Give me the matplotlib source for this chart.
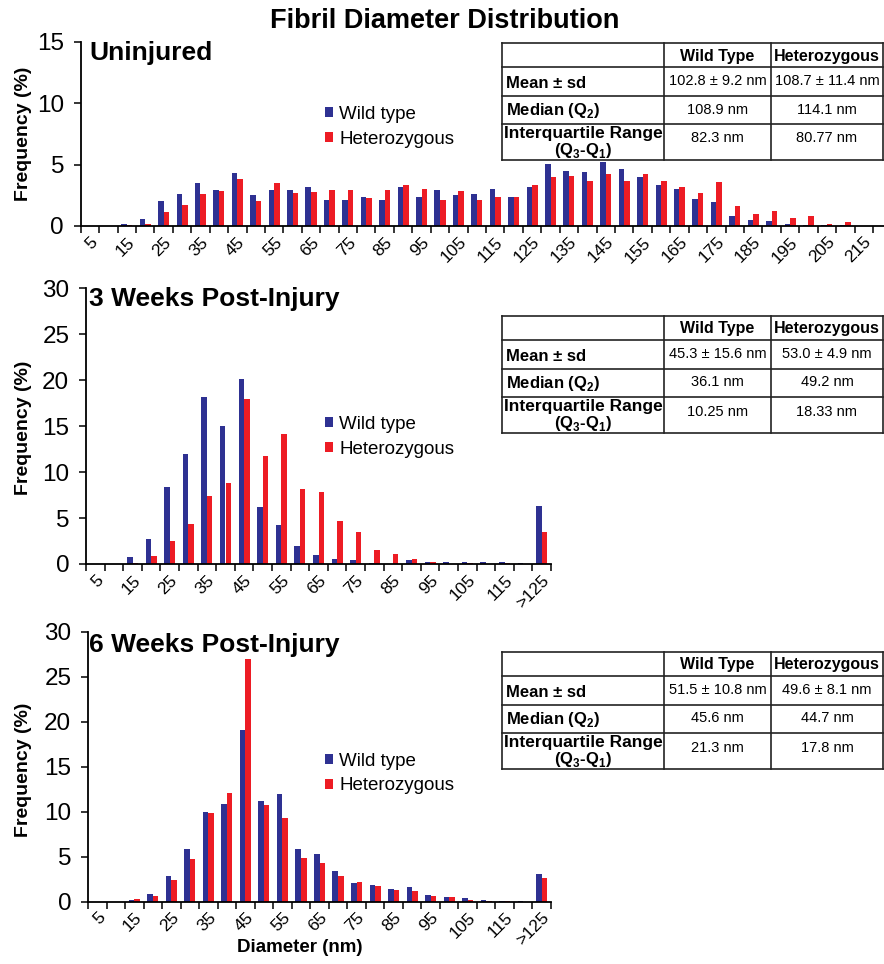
import numpy as np
import matplotlib
matplotlib.use("Agg")
import matplotlib.pyplot as plt

plt.rcParams['font.family'] = ['Liberation Sans', 'DejaVu Sans']
plt.rcParams['mathtext.fontset'] = 'custom'
plt.rcParams['mathtext.rm'] = 'Liberation Sans'
plt.rcParams['mathtext.bf'] = 'Liberation Sans:bold'

W, H = 884, 964
BLUE = '#2E3192'
RED = '#ED1C24'

# ---- data (frequency, %) ----
uninj_bins = [str(b) for b in range(5, 220, 5)]
uninj_wt = [0, 0, 0.2, 0.6, 2.05, 2.6, 3.5, 2.9, 4.3, 2.55,
            2.95, 2.95, 3.2, 2.1, 2.1, 2.4, 2.1, 3.2, 2.4, 2.95,
            2.5, 2.6, 3.0, 2.4, 3.2, 5.05, 4.45, 4.4, 5.2, 4.6,
            4.0, 3.3, 3.0, 2.2, 1.95, 0.85, 0.5, 0.4, 0.15, 0.1,
            0.05, 0.1, 0]
uninj_het = [0, 0, 0.1, 0.2, 1.1, 1.7, 2.6, 2.85, 3.8, 2.0,
             3.5, 2.65, 2.8, 2.95, 2.95, 2.3, 2.9, 3.3, 3.0, 2.1,
             2.85, 2.1, 2.4, 2.4, 3.3, 4.0, 4.1, 3.7, 4.2, 3.7,
             4.2, 3.7, 3.2, 2.65, 3.6, 1.65, 1.0, 1.2, 0.65, 0.8,
             0.15, 0.3, 0.03]

post_bins = [str(b) for b in range(5, 125, 5)] + ['>125']
wk3_wt = [0, 0, 0.73, 2.7, 8.4, 12.0, 18.2, 15.05, 20.1, 6.25,
          4.25, 1.95, 0.95, 0.5, 0.45, 0.15, 0, 0.4, 0.2, 0.25,
          0.2, 0.25, 0.2, 0.1, 6.3]
wk3_het = [0, 0, 0.15, 0.9, 2.5, 4.3, 7.4, 8.85, 18.0, 11.8,
           14.1, 8.2, 7.8, 4.65, 3.5, 1.55, 1.1, 0.55, 0.2, 0.05,
           0.1, 0.05, 0.1, 0.05, 3.45]
wk6_wt = [0, 0, 0.15, 0.9, 2.9, 5.9, 10.0, 10.9, 19.1, 11.15,
          11.95, 5.9, 5.25, 3.45, 2.07, 1.9, 1.45, 1.65, 0.8, 0.5,
          0.45, 0.2, 0.1, 0.07, 3.05]
wk6_het = [0, 0, 0.3, 0.6, 2.4, 4.8, 9.9, 12.1, 27.0, 10.8,
           9.3, 4.85, 4.3, 2.9, 2.15, 1.75, 1.35, 1.2, 0.65, 0.55,
           0.15, 0.05, 0.1, 0.02, 2.6]

# ---- summary tables ----
table_cols = ["Wild Type", "Heterozygous"]
table_rows = ["Mean \u00b1 sd", r"Median (Q$_\mathbf{2}$)",
              "Interquartile Range", r"(Q$_\mathbf{3}$-Q$_\mathbf{1}$)"]
uninj_tab_wt = ["102.8 \u00b1 9.2 nm", "108.9 nm", "82.3 nm"]
uninj_tab_het = ["108.7 \u00b1 11.4 nm", "114.1 nm", "80.77 nm"]
wk3_tab_wt = ["45.3 \u00b1 15.6 nm", "36.1 nm", "10.25 nm"]
wk3_tab_het = ["53.0 \u00b1 4.9 nm", "49.2 nm", "18.33 nm"]
wk6_tab_wt = ["51.5 \u00b1 10.8 nm", "45.6 nm", "21.3 nm"]
wk6_tab_het = ["49.6 \u00b1 8.1 nm", "44.7 nm", "17.8 nm"]

fig = plt.figure(figsize=(W / 100, H / 100), dpi=100)


def panel(px_left, px_right, px_top, px_bottom, bins, wt, het, ymax, xmax, legend_top):
    rect = [px_left / W, 1 - px_bottom / H, (px_right - px_left) / W, (px_bottom - px_top) / H]
    ax = fig.add_axes(rect)
    x = np.arange(len(bins))
    ax.bar(x - 0.15, wt, width=0.3, color=BLUE, label='Wild type')
    ax.bar(x + 0.15, het, width=0.3, color=RED, label='Heterozygous')
    ax.set_xlim(-0.5, xmax)
    ax.set_ylim(0, ymax)
    ax.set_yticks(np.arange(0, ymax + 1, 5))
    ax.set_xticks(np.arange(len(bins) + 1) - 0.5)
    ax.set_xticklabels([])
    ax.set_xticks(x[::2], bins[::2], minor=True)
    ax.tick_params(axis='x', which='major', length=5, width=1.1, direction='out')
    ax.tick_params(axis='x', which='minor', length=0, labelsize=12.5, pad=6)
    ax.tick_params(axis='y', length=5, width=1.1, labelsize=17.5, pad=7)
    for lab in ax.get_xticklabels(minor=True):
        lab.set_rotation(45)
        lab.set_ha('right')
        lab.set_va('top')
        lab.set_rotation_mode('anchor')
    for s in ['top', 'right']:
        ax.spines[s].set_visible(False)
    for s in ['left', 'bottom']:
        ax.spines[s].set_linewidth(1.3)
    ax.legend(loc='upper left', bbox_to_anchor=(325 / W, 1 - legend_top / H),
              bbox_transform=fig.transFigure, frameon=False, fontsize=13.5,
              handlelength=0.45, handleheight=0.45, handletextpad=0.3,
              labelspacing=0.4, borderpad=0, borderaxespad=0)
    return ax


panel(80.7, 884, 41.7, 226, uninj_bins, uninj_wt, uninj_het, 15, 43.1, 106)
panel(86, 551, 288.3, 564, post_bins, wk3_wt, wk3_het, 30, 24.5, 416)
panel(88, 551, 631.7, 901.7, post_bins, wk6_wt, wk6_het, 30, 24.5, 753)

# overlay in pixel coordinates for titles and tables
ov = fig.add_axes([0, 0, 1, 1])
ov.set_xlim(0, W)
ov.set_ylim(H, 0)
ov.axis('off')

ov.text(445, 21, "Fibril Diameter Distribution", ha='center', va='center',
        fontsize=19.5, fontweight='bold')
for y, t in [(53, "Uninjured"), (299, "3 Weeks Post-Injury"), (645, "6 Weeks Post-Injury")]:
    ov.text(89, y, t, ha='left', va='center', fontsize=19, fontweight='bold')
for y in [134, 428, 770]:
    ov.text(24, y, "Frequency (%)", rotation=90, ha='center', va='center',
            fontsize=14, fontweight='bold')
ov.text(300, 947, "Diameter (nm)", ha='center', va='center', fontsize=13.5, fontweight='bold')


def draw_table(top, wt_vals, het_vals):
    col_x = [502, 664, 771, 883]
    row_h = [24, 28.5, 28, 36]
    row_y = [top]
    for h in row_h:
        row_y.append(row_y[-1] + h)
    lw = 1.2
    for y in row_y:
        ov.plot([col_x[0], col_x[-1]], [y, y], color='#222222', lw=lw)
    for cx in col_x:
        ov.plot([cx, cx], [row_y[0], row_y[-1]], color='#222222', lw=lw)
    mids = [(row_y[i] + row_y[i + 1]) / 2 for i in range(len(row_h))]
    ccx = [(col_x[i] + col_x[i + 1]) / 2 for i in range(3)]
    for j, name in enumerate(table_cols):
        ov.text(ccx[j + 1], mids[0] + 1, name, ha='center', va='center',
                fontsize=11.5, fontweight='bold')
    ov.text(col_x[0] + 4, mids[1] + 2, table_rows[0], ha='left', va='center',
            fontsize=12, fontweight='bold')
    ov.text(col_x[0] + 4, mids[2] + 1, table_rows[1], ha='left', va='center',
            fontsize=12, fontweight='bold')
    ov.text(ccx[0], mids[3] - 8, table_rows[2], ha='center', va='center',
            fontsize=12.5, fontweight='bold')
    ov.text(ccx[0], mids[3] + 9, table_rows[3], ha='center', va='center',
            fontsize=12, fontweight='bold')
    for i in range(3):
        ov.text(ccx[1], mids[i + 1] - (3 if i == 2 else 0), wt_vals[i], ha='center',
                va='center', fontsize=10.5)
        ov.text(ccx[2], mids[i + 1] - (3 if i == 2 else 0), het_vals[i], ha='center',
                va='center', fontsize=10.5)


draw_table(43, uninj_tab_wt, uninj_tab_het)
draw_table(316, wk3_tab_wt, wk3_tab_het)
draw_table(652, wk6_tab_wt, wk6_tab_het)

fig.savefig("out.png", dpi=100)
